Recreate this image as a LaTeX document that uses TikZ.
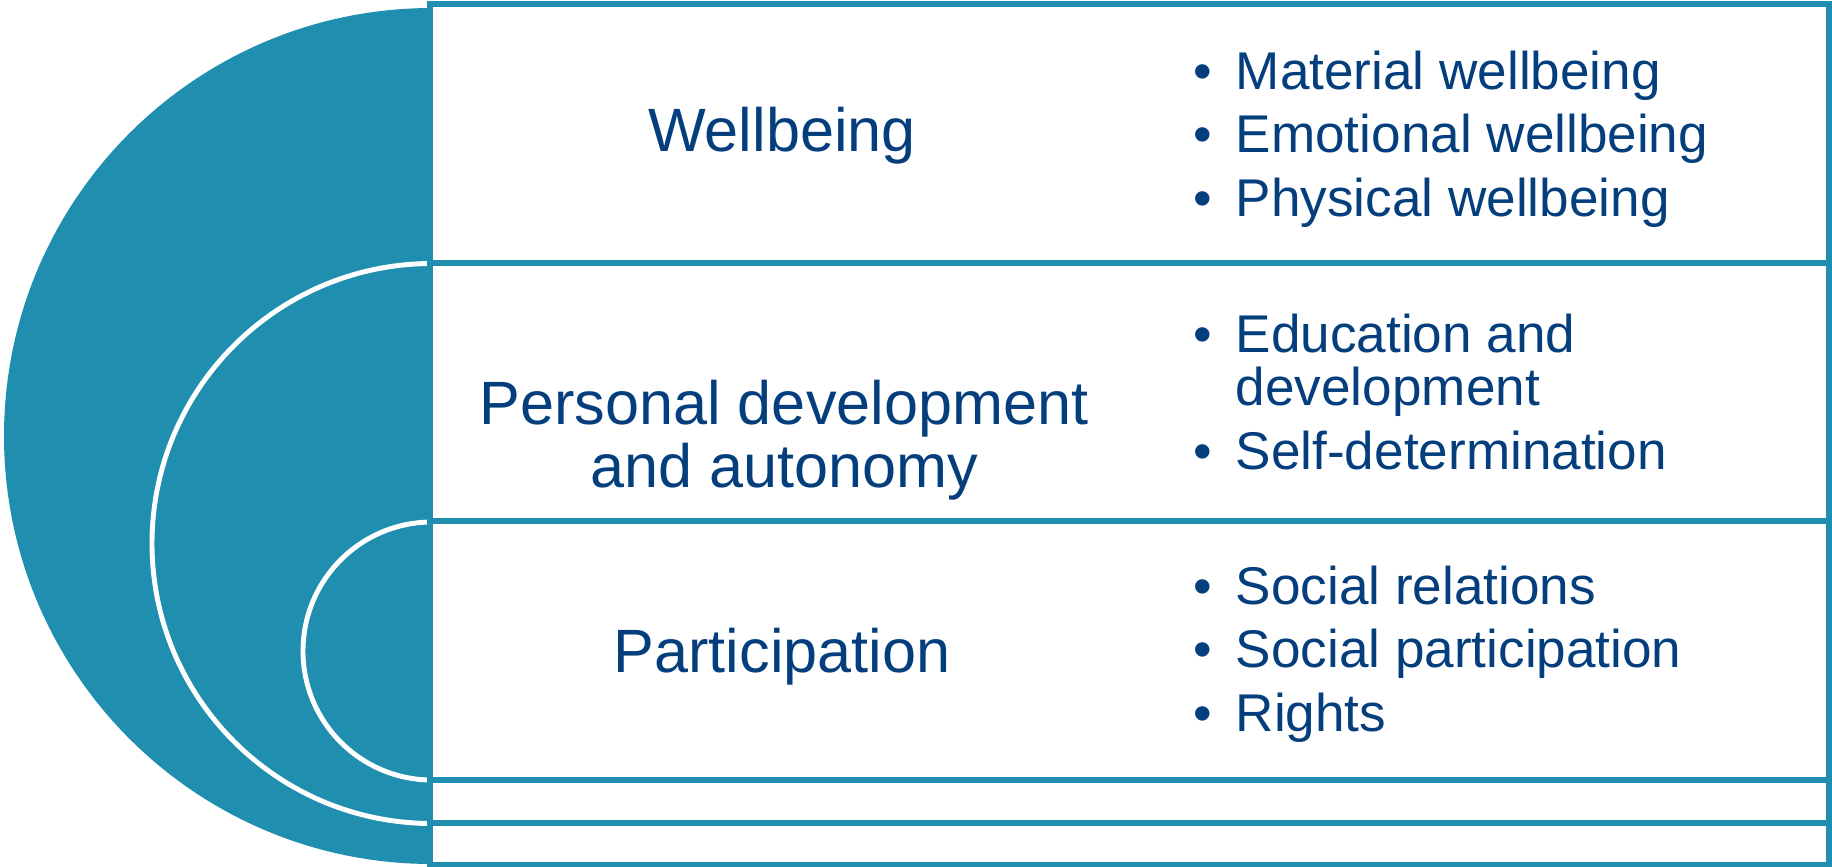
\documentclass[tikz,border=0pt]{standalone}
\usepackage{fontspec}
\setmainfont{Liberation Sans}
\definecolor{ringteal}{RGB}{32,143,175}
\definecolor{labelblue}{RGB}{4,62,124}
\tikzset{
  panel/.style={draw=ringteal, line width=1.6pt},
  ringline/.style={draw=white, line width=1.4pt},
  mainlabel/.style={text=labelblue, align=center, inner sep=0pt,
    font=\fontsize{17.4}{18}\selectfont},
  itemlist/.style={text=labelblue, anchor=west, inner sep=0pt,
    font=\fontsize{15.1}{18.1}\selectfont},
}
\newcommand{\itembul}{\textbullet\hspace{6.7pt}}
\begin{document}
\begin{tikzpicture}[x=0.01cm,y=-0.01cm]
  \useasboundingbox (0,0) rectangle (1832,866);
  \fill[ringteal] (432,8) arc[start angle=270, end angle=90, radius=428] -- cycle;
  \draw[ringline] (432,263.5) arc[start angle=270, end angle=90, radius=280];
  \draw[ringline] (432,522) arc[start angle=270, end angle=90, radius=129];
  \foreach \top/\bot in {4/263, 263/521, 521/780, 780/823, 823/865}
  \draw[panel] (430,\top) rectangle (1829,\bot);
  \node[mainlabel] (wellbeing) at (782,136) {Wellbeing};
  \node[mainlabel] (autonomy) at (784,440) {Personal development\\and autonomy};
  \node[mainlabel] (participation) at (782,657) {Participation};
  \node[itemlist] (wellitems) at (1193,140) {\begin{tabular}{@{}l@{}}
    \itembul Material wellbeing\\
    \itembul Emotional wellbeing\\
    \itembul Physical wellbeing
  \end{tabular}};
  \node[itemlist] (autoitems) at (1193,398) {\begin{tabular}{@{}l@{\hspace{6.7pt}}l@{}}
    \textbullet & Education and\\[-3pt]
    & development\\
    \textbullet & Self-determination
  \end{tabular}};
  \node[itemlist] (partitems) at (1193,655) {\begin{tabular}{@{}l@{}}
    \itembul Social relations\\
    \itembul Social participation\\
    \itembul Rights
  \end{tabular}};
\end{tikzpicture}
\end{document}
